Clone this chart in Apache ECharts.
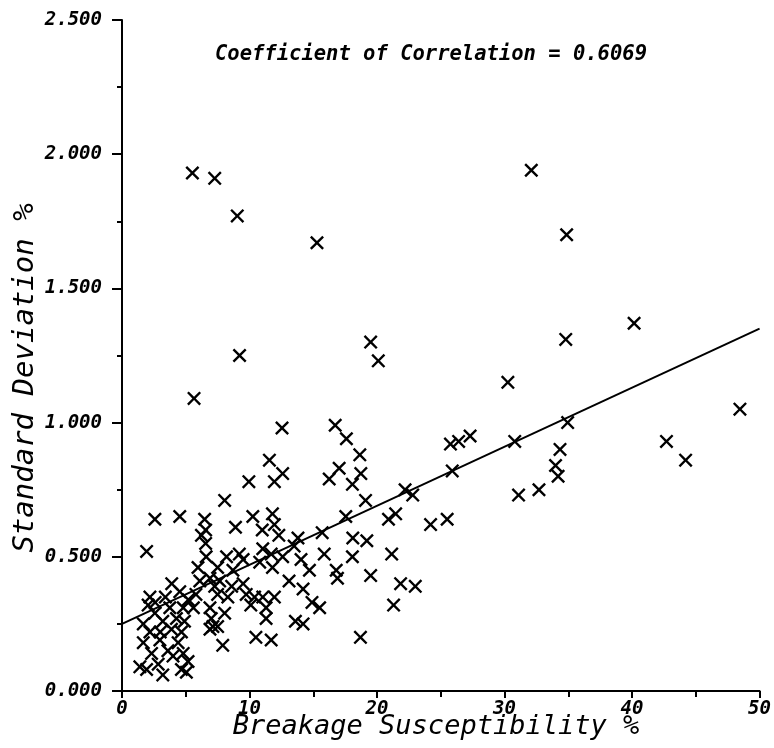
<!DOCTYPE html>
<html>
<head>
<meta charset="utf-8">
<script src="https://cdn.jsdelivr.net/npm/echarts@6/dist/echarts.min.js"></script>
<style>html,body{margin:0;padding:0;background:#fff;}#chart{width:774px;height:748px;}</style>
</head>
<body>
<div id="chart"></div>
<script>
// Breakage susceptibility (%) of each sample
const bsX = [
  5.52,7.27,9.04,15.29,9.22,5.65,19.5,20.1,32.1,34.87,40.16,34.8,30.26,48.46,34.95,27.3,26.4,25.76,30.8,42.7,44.2,34.35,34.0,34.2,32.7,31.1,25.9,
  12.55,16.72,17.6,18.65,11.56,12.6,11.95,17.03,16.25,18.73,18.07,19.1,22.2,22.8,17.55,20.9,21.46,24.2,25.5,15.7,18.1,19.2,13.8,15.86,14.04,18.07,21.15,14.7,16.8,16.9,19.5,13.1,14.2,21.85,23.0,14.9,15.5,21.3,14.2,18.7,
  9.95,8.05,2.58,4.53,1.93,6.48,6.56,6.23,6.56,8.9,10.26,11.8,11.95,11.0,12.3,9.2,11.04,11.7,12.6,11.8,10.8,13.5,5.96,7.5,6.9,7.27,8.3,7.5,6.1,3.9,5.2,4.53,2.19,2.05,3.75,4.8,2.58,1.67,3.2,4.27,4.9,2.19,3.88,4.66,1.67,2.97,4.4,2.32,3.6,4.8,1.4,1.93,2.84,3.2,4.66,5.18,5.05,
  7.0,7.13,6.9,8.05,7.5,7.9,9.74,10.4,10.1,11.04,11.3,11.95,11.3,10.5,11.7,13.6,5.8,5.6,9.5,8.6,8.7,8.2,9.5,7.66,6.9,3.0,2.6,4.0,3.4,6.6
];
// Standard deviation (%) of each sample
const sdY = [
  1.93,1.91,1.77,1.67,1.25,1.09,1.30,1.23,1.94,1.70,1.37,1.31,1.15,1.05,1.00,0.95,0.93,0.92,0.93,0.93,0.86,0.90,0.84,0.80,0.75,0.73,0.82,
  0.98,0.99,0.94,0.88,0.86,0.81,0.78,0.83,0.79,0.81,0.77,0.71,0.75,0.73,0.65,0.64,0.66,0.62,0.64,0.59,0.57,0.56,0.57,0.51,0.49,0.50,0.51,0.45,0.45,0.42,0.43,0.41,0.38,0.40,0.39,0.33,0.31,0.32,0.25,0.20,
  0.78,0.71,0.64,0.65,0.52,0.64,0.60,0.58,0.55,0.61,0.65,0.66,0.62,0.60,0.58,0.51,0.53,0.51,0.50,0.46,0.48,0.54,0.46,0.46,0.42,0.39,0.35,0.36,0.41,0.40,0.34,0.37,0.35,0.32,0.31,0.31,0.29,0.25,0.26,0.27,0.26,0.22,0.23,0.22,0.18,0.19,0.18,0.14,0.15,0.14,0.09,0.08,0.10,0.06,0.08,0.11,0.07,
  0.27,0.24,0.31,0.29,0.24,0.17,0.36,0.35,0.32,0.35,0.31,0.35,0.27,0.20,0.19,0.26,0.36,0.31,0.40,0.39,0.45,0.50,0.49,0.41,0.23,0.22,0.33,0.13,0.35,0.50
];
// Regression line end points
const fitX = [0, 50];
const fitY = [0.25, 1.35];
// Axis ticks
const xTicks = [0, 10, 20, 30, 40, 50];
const yTicks = [0, 0.5, 1.0, 1.5, 2.0, 2.5];
const correlationText = 'Coefficient of Correlation = 0.6069';

const points = bsX.map((x, i) => [x, sdY[i]]);
const fitLine = fitX.map((x, i) => [x, fitY[i]]);

const crossPath = 'path://M0,1.2L1.2,0L5,3.8L8.8,0L10,1.2L6.2,5L10,8.8L8.8,10L5,6.2L1.2,10L0,8.8L3.8,5Z';
const tickFont = {color:'#000', fontFamily:'DejaVu Sans Mono', fontWeight:'bold', fontStyle:'italic', fontSize:19};

const chart = echarts.init(document.getElementById('chart'), null, {renderer:'canvas'});
chart.setOption({
  backgroundColor:'#fff',
  animation:false,
  grid:{left:122, right:13, top:20, bottom:57},
  xAxis:{
    type:'value', min:xTicks[0], max:xTicks[xTicks.length-1], interval:10,
    axisLine:{show:true, onZero:false, lineStyle:{color:'#000', width:2}},
    axisTick:{show:true, length:7, lineStyle:{color:'#000', width:2}},
    minorTick:{show:true, splitNumber:2, length:6, lineStyle:{color:'#000', width:2}},
    splitLine:{show:false},
    axisLabel:Object.assign({margin:9, formatter:v => String(v)}, tickFont)
  },
  yAxis:{
    type:'value', min:yTicks[0], max:yTicks[yTicks.length-1], interval:0.5,
    axisLine:{show:true, onZero:false, lineStyle:{color:'#000', width:2}},
    axisTick:{show:true, length:10, lineStyle:{color:'#000', width:2}},
    minorTick:{show:true, splitNumber:2, length:5, lineStyle:{color:'#000', width:2}},
    splitLine:{show:false},
    axisLabel:Object.assign({margin:20, formatter:v => v.toFixed(3)}, tickFont)
  },
  graphic:[
    {type:'text', left:215, top:45, style:{text:correlationText, fill:'#000', font:'italic bold 20.5px "DejaVu Sans Mono"'}},
    {type:'text', x:436, y:727, style:{text:'Breakage Susceptibility %', fill:'#000', font:'italic 27px "DejaVu Sans Mono"', textAlign:'center', textVerticalAlign:'middle'}},
    {type:'text', x:25, y:378, rotation:Math.PI/2, style:{text:'Standard Deviation %', fill:'#000', font:'italic 29px "DejaVu Sans Mono"', textAlign:'center', textVerticalAlign:'middle'}}
  ],
  series:[
    {type:'line', data:fitLine, showSymbol:false, symbol:'none', lineStyle:{color:'#000', width:2}, z:3},
    {type:'scatter', data:points, symbol:crossPath, symbolSize:14, itemStyle:{color:'#000', opacity:1}, z:4}
  ]
});
</script>
</body>
</html>
